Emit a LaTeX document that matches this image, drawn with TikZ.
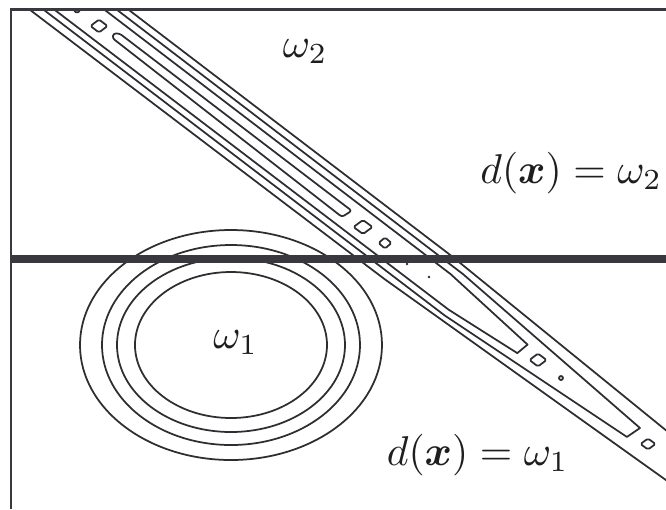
\documentclass[tikz,border=0pt]{standalone}
\usepackage{amsmath}
\definecolor{linec}{RGB}{45,45,50}
\definecolor{barc}{RGB}{56,56,62}
\definecolor{textc}{RGB}{30,30,30}
\tikzset{
  contour/.style={draw=linec, line width=0.42pt, line join=round},
  frameline/.style={draw=barc, line width=0.65pt},
  barline/.style={draw=barc, line width=1.95pt},
  lbl/.style={inner sep=0pt, anchor=base west, text=textc},
  dmd/.style={contour, rounded corners=0.4pt},
  dotc/.style={fill=linec, draw=none}
}
\begin{document}
\begin{tikzpicture}[x=0.24pt,y=-0.24pt]
\useasboundingbox (0,0) rectangle (666,509);
\begin{scope}
  \clip (11,9.7) rectangle (666,509);
  % class 1 contours
  \foreach \rx/\ry in {151/115,129/100,114/87,96/73}
    \draw[contour] (231,345) ellipse [x radius=\rx, y radius=\ry];
  % class 2 contours (rotated frame along the ridge)
  \begin{scope}[shift={(99,26)},rotate=-37.27]
    % outer pair
    \draw[contour] (-120,-31) -- (420,-30.5) -- (700,-21.5) -- (820,-18);
    \draw[contour] (-120,29) -- (380,28.5) -- (726,18) -- (820,15.5);
    % second pair, closing at the lower right
    \draw[contour] (-120,-24) -- (440,-23) -- (674,-7.7) -- (669,7.3) -- (450,21) -- (-120,20.5);
    % third pair, closing further up
    \draw[contour] (-120,-16.5) -- (430,-15.5) -- (534,-6) -- (531,7) -- (450,14) -- (-120,14);
    % innermost slot
    \draw[contour, rounded corners=0.6pt] (18,1.5) -- (16,-3) -- (21,-6.5) -- (313,-6) -- (309,4.8) -- cycle;
  \end{scope}
  % small closed contours
  \draw[dmd] (72,8) -- (77,3) -- (82,8) -- (77,13.5) -- cycle;
  \draw[dmd] (90.5,26) -- (99,19.5) -- (107.5,26) -- (99,32.5) -- cycle;
  \draw[dmd] (353.5,227) -- (363,220) -- (372.5,227) -- (363,234) -- cycle;
  \draw[dmd] (378.5,243) -- (385,237.5) -- (391.5,243) -- (385,248.5) -- cycle;
  \draw[dmd] (529.5,360) -- (538,353.5) -- (546.5,360) -- (538,366.5) -- cycle;
  \draw[dmd] (640.5,444) -- (648,438.5) -- (655.5,444) -- (648,449.5) -- cycle;
  \draw[contour] (561,378) circle [radius=2];
  \fill[dotc] (407,264) circle [radius=1.3];
  \fill[dotc] (429,277) circle [radius=1.3];
\end{scope}
% frame
\draw[frameline] (11,509) -- (11,9.7) -- (666,9.7);
% decision boundary
\draw[barline] (11,259) -- (666,259);
% labels
\node[lbl] (w2) at (282,57) {$\omega_2$};
\node[lbl] (w1) at (212.5,348) {$\omega_1$};
\node[lbl] (d2) at (479.5,183) {$d(\boldsymbol{x})=\omega_2$};
\node[lbl] (d1) at (386,465) {$d(\boldsymbol{x})=\omega_1$};
\end{tikzpicture}
\end{document}
